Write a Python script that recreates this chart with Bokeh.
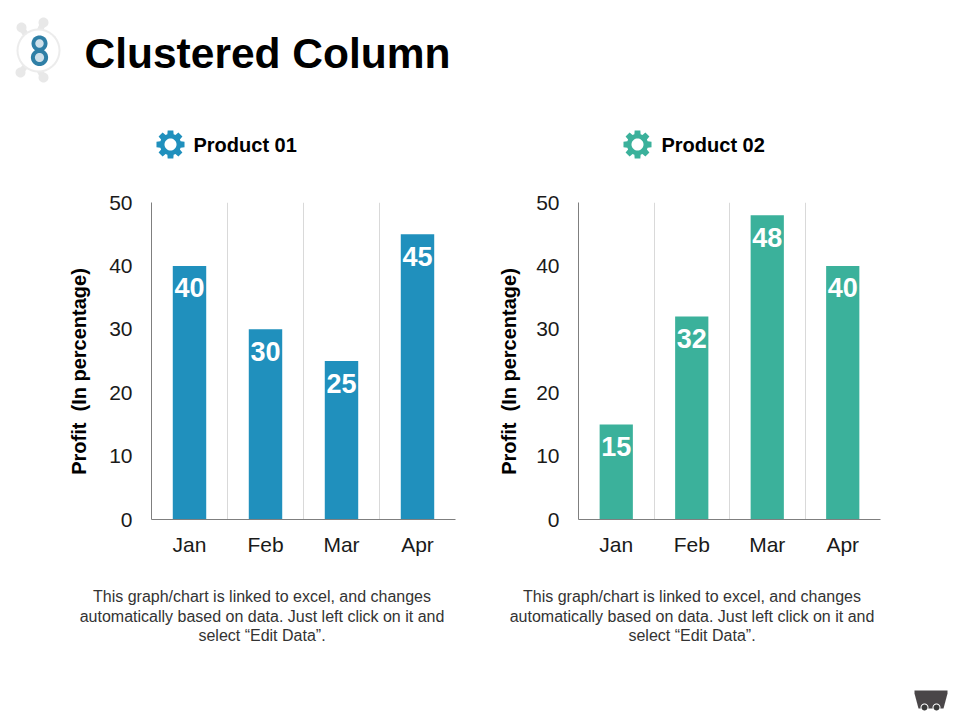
import math
from bokeh.plotting import figure
from bokeh.layouts import row, column
from bokeh.core.properties import value
from bokeh.models import (ColumnDataSource, FixedTicker, Label, LabelSet, PolyAnnotation, Range1d)
from bokeh.embed import file_html
from bokeh.resources import INLINE

months = ["Jan", "Feb", "Mar", "Apr"]
product_01 = [40, 30, 25, 45]
product_02 = [15, 32, 48, 40]
series_names = ["Product 01", "Product 02"]
y_ticks = [0, 10, 20, 30, 40, 50]
y_title = "Profit \u00a0(In percentage)"
main_title = "Clustered Column"
caption = ["This graph/chart is linked to excel, and changes",
           "automatically based on data. Just left click on it and",
           "select \u201cEdit Data\u201d."]
BLUE = "#2090bd"
GREEN = "#3bb19b"
FONT = "Liberation Sans"
TOP_H, MID_H, BOT_H = 180, 390, 146
W = 956


def canvas(width, height):
    """A figure whose frame fills it; decorations are placed in page pixels."""
    p = figure(width=width, height=height, output_backend="svg", toolbar_location=None,
               x_range=Range1d(0, width), y_range=Range1d(0, height),
               x_axis_location=None, y_axis_location=None, min_border=0)
    p.grid.visible = False
    p.outline_line_color = None
    p.background_fill_color = None
    p.border_fill_color = None
    return p


def poly(p, box, pts, color):
    ox, oy, h = box
    p.add_layout(PolyAnnotation(xs=[a - ox for a, _ in pts], ys=[h - (b - oy) for _, b in pts],
                                xs_units="screen", ys_units="screen",
                                fill_color=color, fill_alpha=1, line_color=None, level="overlay"))


def circle(cx, cy, r):
    return [(cx + r * math.cos(i * math.pi / 18), cy + r * math.sin(i * math.pi / 18)) for i in range(36)]


def capsule(x0, y0, x1, y1, w):
    dx, dy = x1 - x0, y1 - y0
    n = math.hypot(dx, dy)
    ux, uy = -dy / n * w, dx / n * w
    return [(x0 + ux, y0 + uy), (x1 + ux, y1 + uy), (x1 - ux, y1 - uy), (x0 - ux, y0 - uy)]


def gear(p, box, cx, cy, color):
    pts = []
    for t in range(8):
        base = t * math.pi / 4
        for da, r in [(-0.30, 10.6), (-0.20, 14.3), (0.20, 14.3), (0.30, 10.6)]:
            pts.append((cx + r * math.cos(base + da), cy + r * math.sin(base + da)))
    poly(p, box, pts, color)
    poly(p, box, circle(cx, cy, 6), "#ffffff")


def text(p, box, x, y, s, size, color="#000000", bold=False, align="left", angle=0):
    ox, oy, h = box
    p.add_layout(Label(x=x - ox, y=h - (y - oy), x_units="screen", y_units="screen", text=s,
                       text_font=FONT, text_font_size=f"{size}px", text_color=color,
                       text_font_style="bold" if bold else "normal", angle=angle,
                       text_align=align, text_baseline="middle", level="overlay"))


def chart(values, color, left, right, width):
    p = figure(width=width, height=MID_H, output_backend="svg", toolbar_location=None,
               x_range=Range1d(0, len(values)), y_range=Range1d(0, 50))
    p.min_border_left, p.min_border_right = left, right
    p.min_border_top, p.min_border_bottom = 202 - TOP_H, TOP_H + MID_H - 519
    p.outline_line_color = None
    p.background_fill_color = None
    p.border_fill_color = None
    idx = [i + 0.5 for i in range(len(values))]
    src = ColumnDataSource(dict(x=idx, top=values, label=[str(v) for v in values]))
    p.vbar(x="x", top="top", bottom=0, width=0.44, fill_color=color, line_color=None, source=src)
    p.add_layout(LabelSet(x="x", y="top", text="label", source=src, y_offset=-22,
                          text_align="center", text_baseline="middle", text_color="#ffffff",
                          text_font=value(FONT), text_font_size="27px", text_font_style="bold"))
    p.ygrid.visible = False
    p.xgrid.ticker = FixedTicker(ticks=list(range(1, len(values) + 1)))
    p.xgrid.grid_line_color = "#d9d9d9"
    p.xaxis.ticker = FixedTicker(ticks=idx)
    p.xaxis.major_label_overrides = {i: m for i, m in zip(idx, months)}
    p.yaxis.ticker = FixedTicker(ticks=y_ticks)
    for ax in (p.xaxis[0], p.yaxis[0]):
        ax.major_tick_line_color = None
        ax.minor_tick_line_color = None
        ax.major_tick_out = 0
        ax.major_tick_in = 0
        ax.minor_tick_out = 0
        ax.minor_tick_in = 0
        ax.axis_line_color = "#7f7f7f"
        ax.major_label_text_font = FONT
        ax.major_label_text_font_size = "21px"
        ax.major_label_text_color = "#1a1a1a"
    p.xaxis.major_label_standoff = 13
    p.yaxis.major_label_standoff = 19
    return p


# Header
top = canvas(W, TOP_H)
tb = (0, 0, TOP_H)
text(top, tb, 84, 53, main_title, 42.5, bold=True)
gear(top, tb, 170, 144, BLUE)
text(top, tb, 193, 144, series_names[0], 20, bold=True)
gear(top, tb, 637, 144, GREEN)
text(top, tb, 661, 144, series_names[1], 20, bold=True)
for a in [(21, 27, 27, 37), (43, 22, 38, 33), (20, 72, 27, 63), (43, 77, 38, 68)]:
    poly(top, tb, capsule(*a, 3), "#e8e8e8")
    poly(top, tb, circle(a[0], a[1], 5), "#e8e8e8")
poly(top, tb, circle(38, 50, 22), "#ececec")
poly(top, tb, circle(38, 50, 20), "#ffffff")
for cx, cy, ro, ri in [(39, 43, 8, 4.2), (39, 57, 8.6, 4.6)]:
    poly(top, tb, circle(cx, cy, ro), "#2f7fa6")
for cx, cy, ro, ri in [(39, 43, 8, 4.2), (39, 57, 8.6, 4.6)]:
    poly(top, tb, circle(cx, cy, ri), "#cfe0ea")

# Charts with their side strips for the rotated axis titles
strip_l = canvas(100, MID_H)
text(strip_l, (0, TOP_H, MID_H), 78, 422, y_title, 20, bold=True, align="center", angle=math.pi / 2)
chart_l = chart(product_01, BLUE, 51, 25, 380)
strip_r = canvas(47, MID_H)
text(strip_r, (480, TOP_H, MID_H), 508, 422, y_title, 20, bold=True, align="center", angle=math.pi / 2)
chart_r = chart(product_02, GREEN, 51, 76, 429)

# Footer
bot = canvas(W, BOT_H)
bb = (0, TOP_H + MID_H, BOT_H)
for i, line in enumerate(caption):
    text(bot, bb, 261.5, 596 + i * 19.5, line, 16, "#333333", align="center")
    text(bot, bb, 691.5, 596 + i * 19.5, line, 16, "#333333", align="center")
poly(bot, bb, [(914, 690), (947, 690), (947, 693), (943, 708), (918, 708), (914, 693)], "#4a4648")
for cx in (924, 936):
    poly(bot, bb, circle(cx, 707, 4), "#ffffff")
    poly(bot, bb, circle(cx, 707, 3), "#3a3a3a")

page = column(top, row(strip_l, chart_l, strip_r, chart_r, spacing=0), bot, spacing=0)
open("out.html", "w").write(file_html(page, INLINE))
